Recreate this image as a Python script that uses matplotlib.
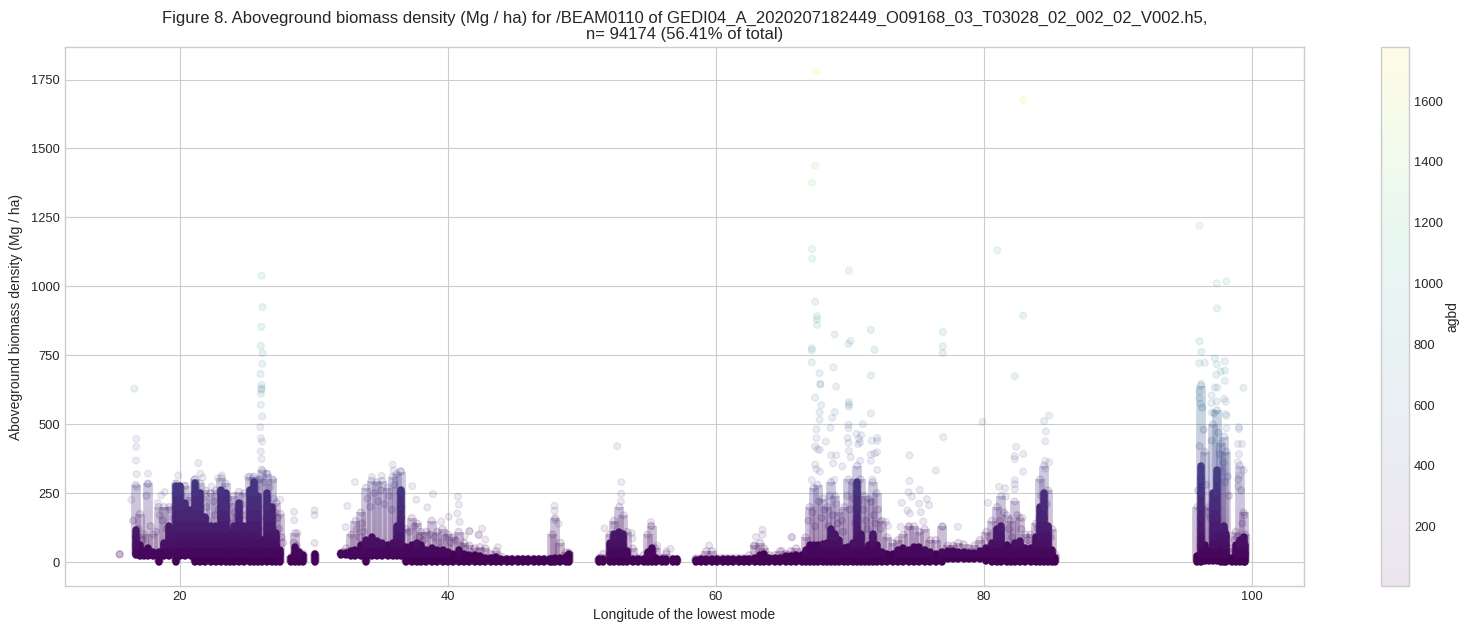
import matplotlib
matplotlib.use("Agg")
import matplotlib.pyplot as plt
import numpy as np

plt.style.use("seaborn-v0_8-whitegrid")
plt.rcParams["font.family"] = ["Liberation Sans", "DejaVu Sans"]

TITLE = ("Figure 8. Aboveground biomass density (Mg / ha) for /BEAM0110 of "
         "GEDI04_A_2020207182449_O09168_03_T03028_02_002_02_V002.h5,\n"
         "n= 94174 (56.41% of total)")

# single footprints that can be read one by one
point_lon = [67.51, 82.94, 67.41, 67.16, 67.16, 67.19, 81.0, 69.93, 67.41, 67.54, 67.54, 67.56,
             68.86, 71.57, 76.94, 70.05, 69.9, 76.94, 76.94, 67.16, 67.16, 71.84, 82.94, 67.16,
             68.78, 67.74, 71.57, 82.31, 67.81, 67.79, 68.98, 67.41, 67.86, 69.93, 69.93, 69.93,
             67.74, 68.88, 71.57, 68.68, 67.74, 84.88, 84.5, 79.9, 70.97, 69.9, 69.9, 68.56,
             67.51, 84.63, 70.5, 70.85, 76.97, 72.04, 67.51, 69.83, 70.68, 72.04, 71.64, 84.58,
             68.21, 69.9, 70.77, 70.62, 82.41, 67.41, 67.76, 67.59, 69.93, 72.04, 82.94, 71.84,
             82.31, 71.57, 74.45, 68.6, 68.98, 70.07, 82.31, 84.58, 84.88, 68.76, 70.77, 71.57,
             69.43, 67.41, 84.6, 72.04, 82.94, 76.42, 67.51, 67.76, 74.45, 67.16, 68.83, 71.69,
             82.31, 82.31, 82.31, 81.14, 81.59, 75.22, 74.38, 74.63, 81.64, 75.75, 80.32, 73.88,
             75.17, 75.92, 74.3, 75.3, 74.48, 82.89, 75.47, 72.69, 72.25, 72.86, 73.8, 74.43,
             78.06, 76.92, 65.67,
             26.09, 26.17, 26.07, 26.04, 26.17, 26.14, 26.02, 26.09, 26.09, 26.09, 26.04, 26.04,
             26.14, 26.0, 26.04, 26.14, 26.04, 26.09, 16.59, 16.74, 16.74, 16.72, 16.77, 17.61,
             16.77, 17.61, 21.37, 21.52, 21.69, 19.88, 23.13, 22.84, 25.07, 25.45, 26.99, 26.5,
             26.2, 21.12, 19.73, 20.35, 22.36, 18.86, 18.61, 27.49, 16.37, 18.36, 28.51, 30.05,
             30.05, 28.53, 28.78, 30.05, 15.5, 15.5, 15.5, 33.06, 34.33, 35.05, 35.87, 35.97,
             36.47, 37.34, 38.88, 40.75, 40.82, 38.46, 37.64, 40.7, 40.07, 40.87, 39.5, 32.49,
             32.36, 41.62, 42.31, 41.24,
             52.64, 52.94, 52.94, 52.91, 47.96, 47.96, 47.99, 55.15, 55.15, 51.69, 52.39, 42.56,
             42.29, 42.79, 43.73, 41.6, 59.5, 63.48, 63.48, 62.99, 62.82, 65.67, 64.93, 56.62,
             56.32, 58.5, 53.73, 53.78, 55.62, 48.26,
             96.09, 97.39, 98.11, 97.41, 96.09, 96.24, 96.09, 96.49, 97.24, 97.99, 97.39, 97.99,
             97.69, 97.34, 97.99, 96.24, 99.38, 96.09, 97.24, 97.44, 96.09, 97.0, 97.94, 98.06,
             97.0, 97.39, 96.19, 97.01, 98.06, 98.11, 99.05, 99.05, 98.98, 99.28, 98.11, 99.05,
             98.98, 99.4, 99.1, 98.98]
point_agbd = [1779, 1675, 1438, 1376, 1135, 1100, 1131, 1057, 944, 892, 880, 860,
              825, 842, 835, 802, 791, 782, 758, 775, 768, 770, 894, 724,
              706, 685, 677, 674, 645, 645, 636, 596, 569, 580, 571, 563,
              543, 544, 539, 523, 516, 531, 511, 508, 500, 498, 485, 487,
              481, 474, 465, 460, 453, 450, 450, 450, 447, 439, 440, 438,
              437, 432, 434, 427, 418, 419, 407, 409, 403, 398, 392, 394,
              384, 390, 387, 387, 387, 380, 373, 367, 362, 358, 367, 367,
              347, 353, 339, 334, 328, 332, 337, 328, 294, 297, 298, 299,
              297, 282, 264, 273, 268, 262, 253, 237, 237, 228, 215, 215,
              212, 206, 187, 181, 176, 160, 147, 145, 147, 131, 128, 128,
              128, 128, 91,
              1039, 925, 853, 784, 758, 719, 682, 642, 630, 624, 610, 570,
              528, 489, 449, 437, 401, 374, 629, 447, 418, 368, 319, 321,
              272, 283, 359, 320, 306, 314, 314, 304, 307, 304, 296, 320,
              329, 301, 284, 278, 274, 254, 242, 226, 226, 214, 182, 187,
              170, 151, 104, 69, 28, 28, 28, 290, 309, 313, 353, 332,
              330, 275, 246, 237, 208, 198, 226, 176, 164, 146, 147, 203,
              127, 112, 99, 93,
              420, 290, 248, 220, 204, 186, 153, 145, 132, 122, 134, 121,
              98, 81, 54, 112, 60, 117, 99, 91, 59, 89, 40, 48,
              39, 13, 105, 86, 60, 139,
              1220, 1011, 1018, 920, 801, 762, 721, 723, 739, 728, 717, 694,
              691, 679, 657, 646, 632, 618, 633, 633, 594, 604, 592, 582,
              576, 582, 574, 542, 537, 530, 489, 482, 428, 428, 485, 391,
              362, 332, 314, 274]

# footprints inside the clouds, only roughly placed
cloud_lon = [16.5, 16.9, 17.2, 17.5, 17.8, 18.2, 18.5, 18.7, 19.0, 19.3, 19.5, 20.2, 20.6, 20.9, 21.3, 21.7,
             22.0, 22.1, 22.5, 22.6, 22.9, 23.6, 23.8, 24.1, 24.2, 24.6, 24.9, 25.0, 25.7, 26.0, 26.3, 26.7,
             27.0, 27.1, 27.3, 27.4, 27.6, 27.7, 28.5, 28.7, 33.2, 33.4, 33.6, 33.7, 34.0, 34.2, 34.5, 34.8,
             35.0, 35.3, 35.6, 35.8, 36.0, 37.1, 37.5, 37.9, 38.2, 38.6, 39.0, 39.4, 39.8, 40.2, 40.6, 41.0,
             66.9, 67.2, 67.4, 67.7, 67.9, 68.1, 68.4, 68.5, 68.7, 69.0, 69.1, 69.4, 69.5, 69.8, 70.0, 70.3,
             70.4, 70.7, 71.0, 71.2, 71.3, 71.6, 71.8, 71.9, 72.1, 72.3, 80.4, 80.8, 81.2, 81.5, 81.9, 82.1,
             82.5, 82.8, 83.3, 83.8, 84.0, 84.3, 84.7, 85.0,
             96.0, 96.1, 96.3, 96.4, 96.6, 96.7, 96.9, 97.0, 97.2, 97.5, 97.6, 97.8, 97.9, 98.0, 98.2, 98.3,
             98.7, 98.9, 99.0, 99.2, 99.3, 99.45]
cloud_agbd = [150, 120, 80, 240, 130, 110, 170, 150, 120, 190, 160, 240, 180, 150, 260, 230,
              200, 150, 220, 170, 190, 230, 140, 180, 160, 210, 170, 120, 270, 300, 290, 270,
              230, 180, 160, 120, 90, 70, 70, 60, 120, 90, 140, 110, 230, 200, 250, 220,
              260, 210, 240, 190, 280, 110, 130, 90, 80, 100, 90, 70, 90, 70, 80, 60,
              150, 180, 130, 220, 160, 190, 130, 240, 170, 210, 140, 150, 110, 240, 190, 230,
              140, 220, 190, 150, 120, 220, 170, 140, 190, 120, 90, 110, 150, 180, 120, 90,
              170, 120, 80, 70, 120, 240, 210, 90,
              260, 420, 560, 480, 280, 180, 160, 440, 540, 470, 390, 330, 360, 290, 310, 240,
              80, 90, 300, 260, 140, 170]

# dense columns: longitude, bottom of the cloud, top of the solid part, top of the cloud
column_lon = [16.7, 17.0, 17.3, 17.6, 18.0, 18.4, 18.8, 19.2, 19.7, 20.0, 20.4, 20.8, 21.1, 21.5, 21.9, 22.3,
              22.7, 23.1, 23.4, 23.7, 24.0, 24.4, 24.8, 25.2, 25.5, 25.8, 26.1, 26.5, 26.9, 27.2, 27.5,
              28.3, 28.6, 28.9, 29.2, 30.05,
              32.0, 32.4, 32.8, 33.1, 33.5, 33.9, 34.3, 34.7, 35.1, 35.5, 35.9, 36.2, 36.5,
              36.9, 37.3, 37.7, 38.0, 38.4, 38.8, 39.2, 39.6, 40.0, 40.4, 40.8, 41.2, 41.6, 42.0, 42.4, 42.8, 43.2, 43.6,
              44.0, 44.4, 44.8, 45.2, 45.6, 46.0, 46.4, 46.8, 47.2, 47.6, 47.8, 48.0, 48.4, 48.8, 49.05,
              51.3, 51.6, 52.1, 52.4, 52.8, 53.1, 53.4, 53.8, 54.2, 54.6, 54.9, 55.2, 55.5, 56.0, 56.3, 56.8, 57.1,
              58.5, 58.9, 59.3, 59.7, 60.1, 60.5, 60.9, 61.3, 61.7, 62.1, 62.5, 62.9, 63.3, 63.6, 64.0, 64.4, 64.8, 65.2, 65.6, 66.0, 66.4,
              66.7, 67.0, 67.3, 67.6, 68.0, 68.3, 68.6, 68.9, 69.2, 69.6, 69.9, 70.2, 70.55, 70.8, 71.1,
              71.4, 71.7, 72.0, 72.4, 72.8, 73.2, 73.6, 74.0, 74.4, 74.8, 75.2, 75.6, 76.0, 76.4, 76.9,
              77.3, 77.7, 78.1, 78.5, 78.9, 79.3, 79.7,
              80.2, 80.6, 81.0, 81.3, 81.7, 82.0, 82.3, 82.7, 83.1, 83.5, 83.9, 84.2, 84.5, 84.8, 85.1, 85.3,
              95.95, 96.2, 96.5, 96.8, 97.1, 97.4, 97.7, 97.95, 98.1, 98.5, 98.8, 99.1, 99.4, 99.5]
column_low = [25, 22, 22, 22, 22, 0, 22, 22, 0, 22, 22, 22, 0, 0, 0, 0,
              0, 0, 0, 0, 0, 0, 0, 0, 0, 0, 0, 0, 0, 0, 0,
              0, 0, 0, 0, 0,
              25, 25, 22, 22, 22, 0, 22, 22, 22, 22, 22, 22, 20,
              0, 0, 0, 0, 0, 0, 0, 0, 0, 0, 0, 0, 0, 0, 0, 0, 0, 0,
              0, 0, 0, 0, 0, 0, 0, 0, 0, 0, 0, 0, 0, 0, 0,
              0, 0, 0, 0, 0, 0, 0, 0, 0, 0, 0, 0, 0, 0, 0, 0, 0,
              0, 0, 0, 0, 0, 0, 0, 0, 0, 0, 0, 0, 0, 0, 0, 0, 0, 0, 0, 0, 0,
              0, 0, 0, 0, 0, 0, 0, 0, 0, 0, 0, 0, 0, 0, 0,
              0, 0, 0, 0, 0, 0, 0, 0, 0, 0, 0, 0, 0, 0, 0,
              12, 12, 12, 12, 12, 12, 12,
              5, 0, 0, 0, 0, 0, 0, 0, 0, 0, 0, 0, 0, 0, 0, 0,
              0, 0, 5, 5, 5, 5, 0, 0, 0, 0, 0, 0, 0, 0]
column_core = [117, 60, 40, 50, 35, 35, 70, 130, 275, 275, 215, 190, 285, 250, 165, 130,
               130, 260, 250, 105, 130, 215, 130, 260, 290, 240, 80, 250, 200, 105, 45,
               15, 55, 35, 25, 30,
               32, 32, 40, 45, 60, 80, 90, 75, 70, 60, 70, 130, 260,
               55, 60, 70, 60, 45, 50, 45, 45, 35, 30, 45, 30, 25, 25, 20, 15, 14, 18,
               12, 10, 10, 10, 10, 10, 10, 10, 10, 10, 10, 15, 15, 18, 30,
               10, 10, 70, 100, 110, 100, 40, 12, 10, 12, 35, 50, 15, 10, 10, 10, 10,
               8, 10, 10, 12, 12, 12, 12, 12, 12, 12, 12, 15, 25, 30, 15, 15, 15, 20, 20, 25, 25,
               45, 60, 60, 60, 65, 70, 120, 100, 80, 50, 55, 70, 290, 100, 45,
               60, 100, 60, 35, 28, 30, 45, 50, 45, 55, 55, 45, 35, 30, 35,
               40, 40, 35, 35, 32, 32, 40,
               50, 70, 120, 130, 60, 50, 70, 75, 50, 50, 90, 200, 250, 130, 45, 15,
               20, 350, 60, 40, 250, 335, 60, 130, 100, 15, 60, 80, 90, 60]
column_top = [280, 175, 100, 285, 100, 200, 200, 200, 285, 275, 275, 235, 300, 285, 260, 250,
              260, 305, 285, 215, 240, 255, 250, 310, 310, 300, 335, 320, 300, 215, 175,
              20, 105, 40, 30, 30,
              32, 50, 100, 150, 180, 270, 295, 290, 295, 270, 310, 320, 328,
              120, 160, 140, 110, 110, 150, 110, 120, 100, 90, 110, 70, 60, 50, 55, 50, 30, 40,
              20, 12, 12, 12, 12, 12, 12, 12, 12, 12, 100, 160, 70, 35, 35,
              15, 30, 100, 150, 200, 170, 110, 50, 15, 25, 100, 130, 50, 15, 30, 12, 12,
              12, 15, 40, 40, 15, 15, 15, 15, 15, 15, 25, 60, 70, 50, 25, 25, 40, 30, 40, 50, 30,
              90, 200, 270, 280, 230, 200, 290, 240, 180, 200, 300, 290, 350, 300, 240,
              230, 290, 250, 150, 90, 70, 80, 100, 130, 130, 110, 120, 80, 80, 130,
              60, 60, 70, 65, 50, 60, 80,
              110, 150, 200, 240, 170, 150, 220, 160, 100, 100, 140, 300, 350, 260, 120, 30,
              200, 640, 400, 200, 500, 550, 430, 455, 400, 50, 110, 350, 180, 100]

# colour steps used to shade the columns, agbd
band_edges = [0, 30, 60, 90, 120, 160, 200, 250, 300, 350, 420, 500, 650]

VMIN, VMAX = 5, 1778


def draw_columns(ax, lon, low, top, cmap, norm, alpha, width, cap):
    # each column is cut in steps so the colour follows agbd like in the scatter
    for lo, hi in zip(band_edges[:-1], band_edges[1:]):
        y0 = np.maximum(low, lo)
        y1 = np.minimum(top, hi)
        keep = y1 > y0
        if keep.any():
            ax.vlines(lon[keep], y0[keep], y1[keep], colors=[cmap(norm((lo + hi) / 2))],
                      linewidth=width, alpha=alpha, capstyle=cap, zorder=2)


fig = plt.figure(figsize=(14.71, 6.31), dpi=100)
ax = fig.add_axes([65 / 1471, 1 - 586 / 631, (1304 - 65) / 1471, (586 - 47) / 631])
cax = fig.add_axes([1381 / 1471, 1 - 586 / 631, 28 / 1471, (586 - 47) / 631])

cmap = plt.get_cmap("viridis")
norm = plt.Normalize(VMIN, VMAX)

lon = np.array(column_lon)
low = np.array(column_low)
core = np.array(column_core)
top = np.array(column_top)

# thin cloud, then the saturated part on top
draw_columns(ax, lon, low, top, cmap, norm, 0.27, 7.0, "butt")
ax.scatter(lon, top, c=top, cmap=cmap, norm=norm, s=24, alpha=0.14, zorder=2)
draw_columns(ax, lon, low, core, cmap, norm, 1.0, 5.4, "round")

ax.scatter(cloud_lon, cloud_agbd, c=cloud_agbd, cmap=cmap, norm=norm, s=24, alpha=0.16, zorder=3)
sc = ax.scatter(point_lon, point_agbd, c=point_agbd, cmap=cmap, norm=norm, s=24, alpha=0.1, zorder=3)

ax.set_xlim(11.42, 103.9)
ax.set_ylim(-87, 1868)
ax.set_xticks([20, 40, 60, 80, 100])
ax.set_yticks([0, 250, 500, 750, 1000, 1250, 1500, 1750])
ax.tick_params(labelsize=9.3)
ax.set_xlabel("Longitude of the lowest mode", fontsize=10)
ax.set_ylabel("Aboveground biomass density (Mg / ha)", fontsize=10, labelpad=6)
ax.set_title(TITLE, fontsize=12, pad=6, linespacing=1.05)

cb = fig.colorbar(sc, cax=cax)
cb.set_ticks([200, 400, 600, 800, 1000, 1200, 1400, 1600])
cax.grid(False)
cb.ax.tick_params(labelsize=9.3, length=0)
cb.set_label("agbd", fontsize=10, labelpad=2)
cb.outline.set_edgecolor("0.8")

fig.savefig("out.png", dpi=100)
